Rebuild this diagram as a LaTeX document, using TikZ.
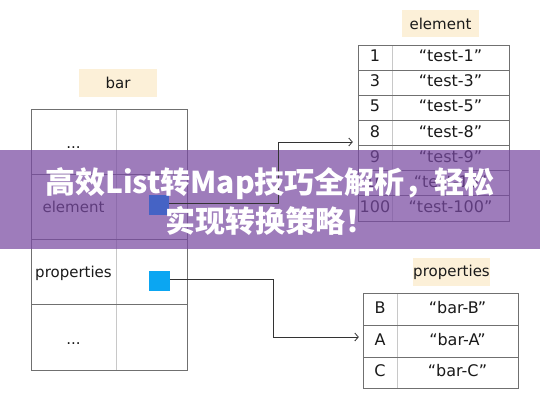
\documentclass[tikz,border=0pt]{standalone}
\usepackage{fontspec}
\setmainfont{DejaVu Sans}
\newfontfamily\cjk{Noto Sans CJK SC}
\usetikzlibrary{arrows.meta}
\definecolor{cream}{HTML}{FCF0D8}
\definecolor{bandc}{RGB}{121,74,162}
\definecolor{gridd}{HTML}{707070}
\definecolor{gridl}{HTML}{C8C8C8}
\definecolor{sqdark}{HTML}{4563C5}
\definecolor{sqlight}{HTML}{0BA6F2}
\definecolor{ink}{HTML}{1A1A1A}
\begin{document}
\begin{tikzpicture}[x=1pt,y=-1pt,
  lab/.style={fill=cream,inner sep=0pt,text=ink,font=\fontsize{15}{18}\selectfont},
  cell/.style={inner sep=0pt,text=ink,text height=11pt,text depth=3pt},
  bcell/.style={cell,font=\fontsize{15}{18}\selectfont},
  ecell/.style={cell,font=\fontsize{16}{19}\selectfont},
  outer/.style={draw=gridd,line width=0.9pt},
  inner/.style={draw=gridl,line width=0.8pt},
  rowl/.style={draw=gridd,line width=0.8pt},
  conn/.style={draw=black!80,line width=0.8pt,-{Straight Barb[length=3.5pt,width=8pt]}},
  sq/.style={inner sep=0pt,minimum size=20.5pt}]
\useasboundingbox (0,0) rectangle (540,400);
\fill[white] (0,0) rectangle (540,400);

% labels
\node[lab,minimum width=78pt,minimum height=28pt] (barlab) at (118,83) {bar};
\node[lab,minimum width=77pt,minimum height=27pt] (ellab) at (440.5,23.5) {element};
\node[lab,minimum width=77pt,minimum height=28pt] (prlab) at (451.5,272) {properties};

% bar table
\draw[inner] (116,109) -- (116,370);
\foreach \y in {174,239,304} \draw[rowl] (31,\y) -- (187,\y);
\draw[outer] (31,109) rectangle (187,370);
\node[bcell,minimum width=85pt,minimum height=65pt] (b1) at (73.5,144.5) {...};
\node[bcell,minimum width=85pt,minimum height=65pt] (b2) at (73.5,208.5) {element};
\node[bcell,minimum width=85pt,minimum height=65pt] (b3) at (73.5,273.5) {properties};
\node[bcell,minimum width=85pt,minimum height=65pt] (b4) at (73.5,340) {...};
\node[sq,fill=sqlight] (prsq) at (159.5,281) {};

% element table
\draw[inner] (392,45) -- (392,221);
\foreach \i in {1,...,6} \draw[rowl] (358,{45+25.143*\i}) -- (509,{45+25.143*\i});
\draw[outer] (358,45) rectangle (509,221);
\foreach \k [count=\i] in {1,3,5,8,9,10,100}{
  \node[ecell,minimum width=34pt,minimum height=25pt] (e\i) at (375,{45+25.143*(\i-0.5)}) {\k};
  \node[ecell] (ev\i) at (450.5,{45+25.143*(\i-0.5)}) {“test-\k”};
}

% properties table
\draw[inner] (397,293) -- (397,388);
\foreach \y in {325,357} \draw[rowl] (363,\y) -- (518,\y);
\draw[outer] (363,293) rectangle (518,388);
\foreach \k/\yy [count=\i] in {B/309,A/341,C/372.5}{
  \node[ecell,minimum width=34pt,minimum height=31pt] (p\i) at (380,\yy) {\k};
  \node[ecell] (pv\i) at (457.5,\yy) {“bar-\k”};
}

% connectors
\draw[conn] ([yshift=2pt]prsq.east) -- ++(103,0) |- ([xshift=-4pt,yshift=4pt]p2.west);

% banner
\fill[bandc,fill opacity=0.72] (0,150) rectangle (540,249);
\node[sq,fill=sqdark] (elsq) at (159,205) {};
\draw[conn] ([yshift=2pt]elsq.east) -- ++(109,0) |- ([xshift=-5pt,yshift=-9pt]e4.west);
\node[text=white,align=center,font=\cjk\bfseries\fontsize{30}{39}\selectfont] (title) at (270,202)
  {高效List转Map技巧全解析，轻松\\实现转换策略！};
\end{tikzpicture}
\end{document}
